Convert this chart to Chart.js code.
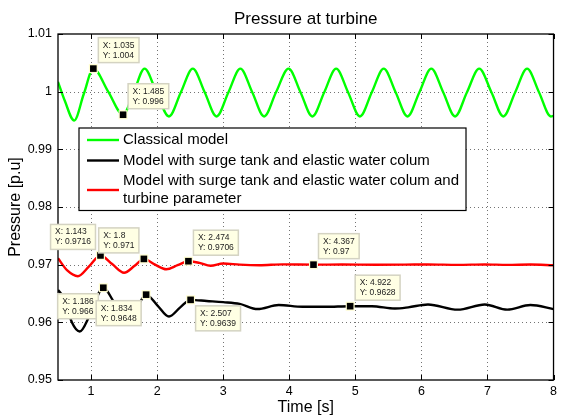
<!DOCTYPE html>
<html>
<head>
<meta charset="utf-8">
<script src="https://cdn.jsdelivr.net/npm/chart.js@4.4.1/dist/chart.umd.min.js"></script>
<style>
  html, body { margin: 0; padding: 0; background: #ffffff; }
  #wrap { width: 561px; height: 419px; }
</style>
</head>
<body>
<div id="wrap"><canvas id="chart" width="561" height="419"></canvas></div>
<script>
// ---- data ----
const seriesNames = [
  'Classical model',
  'Model with surge tank and elastic water colum',
  'Model with surge tank and elastic water colum and turbine parameter'
];

const classicalTime = [0.5, 0.6, 0.745, 0.89, 1.035, 1.26, 1.485, 1.65, 1.81, 1.99, 2.18, 2.36, 2.54, 2.72, 2.9, 3.08, 3.26, 3.44, 3.62, 3.8, 3.99, 4.17, 4.35, 4.53, 4.71, 4.89, 5.07, 5.25, 5.43, 5.61, 5.79, 5.97, 6.15, 6.33, 6.51, 6.69, 6.875, 7.06, 7.24, 7.42, 7.6, 7.78, 7.96, 8.0];
const classicalPressure = [1.0017, 0.9985, 0.9950, 0.9996, 1.0040, 1.0000, 0.9960, 1.0000, 1.0040, 0.9999, 0.9957, 0.9999, 1.0040, 0.9999, 0.9957, 0.9999, 1.0040, 0.9999, 0.9957, 0.9999, 1.0040, 0.9999, 0.9957, 0.9999, 1.0040, 0.9999, 0.9957, 0.9999, 1.0040, 0.9999, 0.9957, 0.9999, 1.0040, 0.9999, 0.9957, 0.9999, 1.0040, 0.9999, 0.9957, 0.9999, 1.0040, 0.9999, 0.9957, 0.9958];

const surgeTime = [0.5, 0.6, 0.71, 0.83, 0.98, 1.186, 1.33, 1.51, 1.68, 1.834, 2.0, 2.18, 2.35, 2.507, 2.75, 3.0, 3.25, 3.52, 3.84, 4.2, 4.55, 4.922, 5.25, 5.6, 5.8, 6.1, 6.55, 6.96, 7.3, 7.65, 8.0];
const surgePressure = [0.9656, 0.9640, 0.9600, 0.9584, 0.9612, 0.9660, 0.9638, 0.9598, 0.9622, 0.9648, 0.9630, 0.9610, 0.9626, 0.9639, 0.9637, 0.9635, 0.9632, 0.9623, 0.9630, 0.9627, 0.9627, 0.9628, 0.9628, 0.9624, 0.9626, 0.9631, 0.9622, 0.9631, 0.9622, 0.9630, 0.9623];

const turbineTime = [0.5, 0.64, 0.8, 0.97, 1.143, 1.32, 1.5, 1.66, 1.8, 1.97, 2.14, 2.31, 2.474, 2.64, 2.81, 3.0, 3.25, 3.55, 3.9, 4.367, 4.8, 5.3, 5.75, 6.1, 6.55, 6.96, 7.3, 7.65, 8.0];
const turbinePressure = [0.9711, 0.9690, 0.9680, 0.9697, 0.9716, 0.9701, 0.9686, 0.9698, 0.9710, 0.9700, 0.9692, 0.9699, 0.9706, 0.9703, 0.9698, 0.9702, 0.9700, 0.9699, 0.97005, 0.9700, 0.97003, 0.96998, 0.9700, 0.97004, 0.96996, 0.97004, 0.96996, 0.97003, 0.9699];

// data cursors: series index, time, pressure
const tipSeries = [0, 0, 2, 2, 2, 2, 1, 1, 1, 1];
const tipTime = [1.035, 1.485, 1.143, 1.8, 2.474, 4.367, 1.186, 1.834, 2.507, 4.922];
const tipPressure = [1.004, 0.996, 0.9716, 0.971, 0.9706, 0.97, 0.966, 0.9648, 0.9639, 0.9628];

const xTicks = [1, 2, 3, 4, 5, 6, 7, 8];
const xTickLabels = ['1', '2', '3', '4', '5', '6', '7', '8'];
const yTicks = [0.95, 0.96, 0.97, 0.98, 0.99, 1.0, 1.01];
const yTickLabels = ['0.95', '0.96', '0.97', '0.98', '0.99', '1', '1.01'];

// ---- styling ----
const FONT = "'Liberation Sans', Arial, Helvetica, sans-serif";
const seriesColors = ['#00ff00', '#000000', '#ff0000'];
// side of each data-cursor box relative to its marker: u/l = up/low, r/l = right/left
const tipSides = ['ur', 'ur', 'ul', 'ul', 'ur', 'ur', 'll', 'll', 'lr', 'ur'];

function points(t, p) { return t.map((v, i) => ({ x: v, y: p[i] })); }

const decorations = {
  id: 'decorations',
  beforeDatasetsDraw(chart) {
    const { ctx, chartArea: a, scales: { x, y } } = chart;
    ctx.save();
    ctx.strokeStyle = 'rgba(0,0,0,0.55)';
    ctx.lineWidth = 1;
    ctx.setLineDash([1, 3]);
    xTicks.forEach(v => {
      const px = Math.round(x.getPixelForValue(v)) + 0.5;
      if (px <= a.left + 1 || px >= a.right - 1) return;
      ctx.beginPath(); ctx.moveTo(px, a.top); ctx.lineTo(px, a.bottom); ctx.stroke();
    });
    yTicks.forEach(v => {
      const py = Math.round(y.getPixelForValue(v)) + 0.5;
      if (py <= a.top + 1 || py >= a.bottom - 1) return;
      ctx.beginPath(); ctx.moveTo(a.left, py); ctx.lineTo(a.right, py); ctx.stroke();
    });
    ctx.restore();
  },
  afterDatasetsDraw(chart) {
    const { ctx, chartArea: a, scales: { x, y } } = chart;
    ctx.save();
    // axes box with inward tick marks on all four sides
    ctx.strokeStyle = '#000';
    ctx.lineWidth = 1.3;
    ctx.strokeRect(a.left, a.top, a.right - a.left, a.bottom - a.top);
    ctx.lineWidth = 1;
    const tl = 5;
    xTicks.forEach(v => {
      const px = Math.round(x.getPixelForValue(v)) + 0.5;
      ctx.beginPath();
      ctx.moveTo(px, a.bottom); ctx.lineTo(px, a.bottom - tl);
      ctx.moveTo(px, a.top); ctx.lineTo(px, a.top + tl);
      ctx.stroke();
    });
    yTicks.forEach(v => {
      const py = Math.round(y.getPixelForValue(v)) + 0.5;
      ctx.beginPath();
      ctx.moveTo(a.left, py); ctx.lineTo(a.left + tl, py);
      ctx.moveTo(a.right, py); ctx.lineTo(a.right - tl, py);
      ctx.stroke();
    });

    // data cursors
    ctx.font = '8.5px ' + FONT;
    ctx.textBaseline = 'middle';
    ctx.textAlign = 'left';
    tipTime.forEach((tv, i) => {
      const mx = x.getPixelForValue(tv);
      const my = y.getPixelForValue(tipPressure[i]);
      const l1 = 'X: ' + tv;
      const l2 = 'Y: ' + tipPressure[i];
      const w = Math.max(ctx.measureText(l1).width, ctx.measureText(l2).width) + 9;
      const h = 25;
      const side = tipSides[i];
      const bx = side[1] === 'r' ? mx + 5 : mx - 5 - w;
      const by = side[0] === 'u' ? my - 6 - h : my + 6;
      ctx.fillStyle = '#ffffe4';
      ctx.strokeStyle = '#d4d3c2';
      ctx.lineWidth = 1.5;
      ctx.fillRect(bx, by, w, h);
      ctx.strokeRect(bx, by, w, h);
      ctx.fillStyle = '#222';
      ctx.fillText(l1, bx + 4.5, by + 7.6);
      ctx.fillText(l2, bx + 4.5, by + 17.6);
      // marker
      ctx.fillStyle = '#fffdd0';
      ctx.fillRect(mx - 4.5, my - 4.5, 9, 9);
      ctx.fillStyle = '#000';
      ctx.fillRect(mx - 3.3, my - 3.3, 6.6, 6.6);
    });

    // legend
    ctx.font = '15px ' + FONT;
    const maxText = 345;
    const rows = chart.data.datasets.map(ds => {
      const words = ds.label.split(' ');
      const lines = [];
      let cur = '';
      words.forEach(wd => {
        const test = cur ? cur + ' ' + wd : wd;
        if (ctx.measureText(test).width > maxText && cur) { lines.push(cur); cur = wd; }
        else cur = test;
      });
      lines.push(cur);
      return { lines, color: ds.borderColor };
    });
    const lx = 79, ly = 128, textX = 123;
    let widest = 0;
    rows.forEach(r => r.lines.forEach(t => { widest = Math.max(widest, ctx.measureText(t).width); }));
    let cy = ly + 12;
    const layout = [];
    rows.forEach(r => {
      const ys = r.lines.map((t, k) => cy + k * 18);
      layout.push({ r, ys });
      cy = ys[ys.length - 1] + 20.5;
    });
    const lastY = layout[layout.length - 1].ys.slice(-1)[0];
    const lw = textX + widest + 7 - lx;
    const lh = lastY + 11.5 - ly;
    ctx.fillStyle = '#fff';
    ctx.fillRect(lx, ly, lw, lh);
    ctx.strokeStyle = '#000';
    ctx.lineWidth = 1.2;
    ctx.strokeRect(lx, ly, lw, lh);
    layout.forEach(({ r, ys }) => {
      const sy = (ys[0] + ys[ys.length - 1]) / 2;
      ctx.strokeStyle = r.color;
      ctx.lineWidth = 2.4;
      ctx.beginPath(); ctx.moveTo(87, sy); ctx.lineTo(119, sy); ctx.stroke();
      ctx.fillStyle = '#000';
      ctx.textBaseline = 'middle';
      r.lines.forEach((t, k) => ctx.fillText(t, textX, ys[k]));
    });

    // title
    ctx.font = '17px ' + FONT;
    ctx.textAlign = 'center';
    ctx.textBaseline = 'alphabetic';
    ctx.fillStyle = '#000';
    ctx.fillText('Pressure at turbine', (a.left + a.right) / 2, 24);
    ctx.restore();
  }
};

const seriesTime = [classicalTime, surgeTime, turbineTime];
const seriesPressure = [classicalPressure, surgePressure, turbinePressure];

new Chart(document.getElementById('chart'), {
  type: 'line',
  data: {
    datasets: seriesNames.map((name, i) => ({
      label: name,
      data: points(seriesTime[i], seriesPressure[i]),
      borderColor: seriesColors[i],
      backgroundColor: seriesColors[i],
      borderWidth: 2.4,
      pointRadius: 0,
      fill: false,
      cubicInterpolationMode: 'monotone'
    }))
  },
  options: {
    responsive: false,
    animation: false,
    events: [],
    layout: { padding: { left: 0, right: 5, top: 34, bottom: 0 } },
    plugins: { legend: { display: false }, title: { display: false }, tooltip: { enabled: false } },
    scales: {
      x: {
        type: 'linear', min: 0.5, max: 8,
        afterBuildTicks: s => { s.ticks = xTicks.map(v => ({ value: v })); },
        afterFit: s => { s.height = 39; },
        grid: { display: false, drawTicks: false },
        border: { display: false },
        ticks: {
          autoSkip: false, maxRotation: 0, padding: 4, color: '#000',
          font: { family: FONT, size: 12.5 },
          callback: (v, i) => xTickLabels[i]
        },
        title: { display: true, text: 'Time [s]', color: '#000', font: { family: FONT, size: 16 }, padding: { top: 0, bottom: 2 } }
      },
      y: {
        type: 'linear', min: 0.95, max: 1.01,
        afterBuildTicks: s => { s.ticks = yTicks.map(v => ({ value: v })); },
        afterFit: s => { s.width = 58; },
        grid: { display: false, drawTicks: false },
        border: { display: false },
        ticks: {
          autoSkip: false, padding: 6, color: '#000',
          font: { family: FONT, size: 12.5 },
          callback: (v, i) => yTickLabels[i]
        },
        title: { display: true, text: 'Pressure [p.u]', color: '#000', font: { family: FONT, size: 16 }, padding: { top: 6, bottom: 0 } }
      }
    }
  },
  plugins: [decorations]
});
</script>
</body>
</html>
